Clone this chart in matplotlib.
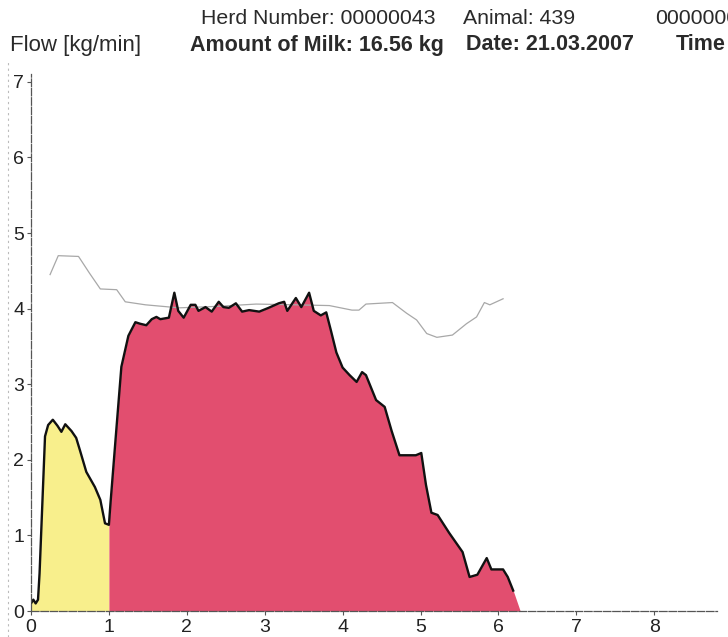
import matplotlib
matplotlib.use("Agg")
import matplotlib.pyplot as plt
import numpy as np

# ---- data ----
t = [0.0, 0.03, 0.06, 0.09, 0.11, 0.18, 0.22, 0.28, 0.34, 0.39, 0.44, 0.52,
     0.58, 0.63, 0.71, 0.82, 0.89, 0.95, 1.00, 1.02, 1.09, 1.16, 1.25, 1.34,
     1.40, 1.48, 1.55, 1.61, 1.66, 1.77, 1.84, 1.89, 1.96, 2.05, 2.11, 2.15,
     2.24, 2.32, 2.41, 2.47, 2.54, 2.63, 2.71, 2.80, 2.93, 3.05, 3.18, 3.25,
     3.29, 3.40, 3.47, 3.57, 3.63, 3.72, 3.79, 3.85, 3.92, 4.00, 4.09, 4.18,
     4.25, 4.30, 4.43, 4.54, 4.63, 4.73, 4.94, 5.01, 5.07, 5.14, 5.22, 5.37,
     5.54, 5.63, 5.73, 5.85, 5.91, 6.06, 6.12, 6.19, 6.28]
flow = [0.10, 0.15, 0.10, 0.15, 0.50, 2.31, 2.46, 2.53, 2.45, 2.37, 2.47, 2.38,
        2.29, 2.12, 1.84, 1.64, 1.47, 1.16, 1.14, 1.42, 2.33, 3.23, 3.64, 3.82,
        3.80, 3.78, 3.86, 3.89, 3.86, 3.88, 4.21, 3.97, 3.88, 4.05, 4.05, 3.97,
        4.02, 3.96, 4.09, 4.02, 4.01, 4.07, 3.96, 3.98, 3.96, 4.01, 4.07, 4.09,
        3.97, 4.14, 4.02, 4.21, 3.97, 3.91, 3.95, 3.71, 3.42, 3.22, 3.12, 3.03,
        3.16, 3.12, 2.79, 2.70, 2.38, 2.06, 2.06, 2.09, 1.67, 1.30, 1.27, 1.03,
        0.78, 0.45, 0.48, 0.70, 0.55, 0.55, 0.45, 0.27, 0.0]

ref_t = [0.245, 0.35, 0.61, 0.75, 0.89, 1.10, 1.21, 1.47, 1.90, 2.40, 2.89,
         3.40, 3.83, 4.12, 4.21, 4.30, 4.64, 4.82, 4.95, 5.08, 5.21, 5.41,
         5.59, 5.72, 5.82, 5.89, 6.06]
ref_v = [4.45, 4.70, 4.69, 4.47, 4.26, 4.25, 4.09, 4.05, 4.01, 4.03, 4.06,
         4.05, 4.04, 3.98, 3.98, 4.06, 4.08, 3.94, 3.85, 3.67, 3.62, 3.65,
         3.80, 3.89, 4.08, 4.05, 4.13]

x_ticks = [0, 1, 2, 3, 4, 5, 6, 7, 8]
y_ticks = [0, 1, 2, 3, 4, 5, 6, 7]
split_t = 1.0

header1 = [("Herd Number: 00000043", 201), ("Animal: 439", 463), ("0000000", 655)]
header2 = [("Amount of Milk: 16.56 kg", 190), ("Date: 21.03.2007", 466), ("Time", 676)]
ylabel = "Flow [kg/min]"

# ---- figure ----
W, H = 728, 637
fig = plt.figure(figsize=(W / 100, H / 100), dpi=100)
plt.rcParams['font.family'] = ['Liberation Sans', 'DejaVu Sans']

x0, y0 = 31, 611
px_x, px_y = 77.9, 75.6
xmax, ymax = 8.8, 7.1
ax = fig.add_axes([x0 / W, (H - y0) / H, xmax * px_x / W, ymax * px_y / H])

ta = np.array(t)
fa = np.array(flow)
yellow = "#f8ef8c"
pink = "#e24e6f"
ax.fill_between(ta, 0, fa, where=ta <= split_t, color=yellow, lw=0, interpolate=False)
ax.fill_between(ta, 0, fa, where=ta >= split_t, color=pink, lw=0, interpolate=False)
ax.plot(ref_t, ref_v, color="#a8a8a8", lw=0.9)
ax.plot(ta[:-1], fa[:-1], color="#111111", lw=1.7)

ax.set_xlim(0, xmax)
ax.set_ylim(0, ymax)
ax.set_xticks(x_ticks)
ax.set_yticks(y_ticks)
ax.tick_params(axis='both', labelsize=14, length=3, width=0.8, color="#555555",
               labelcolor="#222222", pad=2)
ax.tick_params(axis='x', pad=3)
for s in ['top', 'right']:
    ax.spines[s].set_visible(False)
for s in ['left', 'bottom']:
    ax.spines[s].set_color("#555555")
    ax.spines[s].set_linewidth(0.9)
    ax.spines[s].set_linestyle((0, (6, 1.5)))

# faint scan fold line
fig.add_artist(plt.Line2D([8 / W, 8 / W], [0, 1 - 60 / H], transform=fig.transFigure,
                          color="#bbbbbb", lw=0.8, ls=(0, (2, 3))))

for txt, xp in header1:
    fig.text(xp / W, 1 - 19 / H, txt, fontsize=15.3, color="#2a2a2a", va='center', ha='left')
for txt, xp in header2:
    fig.text(xp / W, 1 - 45 / H, txt, fontsize=15.5, color="#2a2a2a", va='center', ha='left',
             fontweight='bold')
fig.text(10 / W, 1 - 45 / H, ylabel, fontsize=16, color="#2a2a2a", va='center', ha='left')

fig.savefig("out.png", dpi=100)
